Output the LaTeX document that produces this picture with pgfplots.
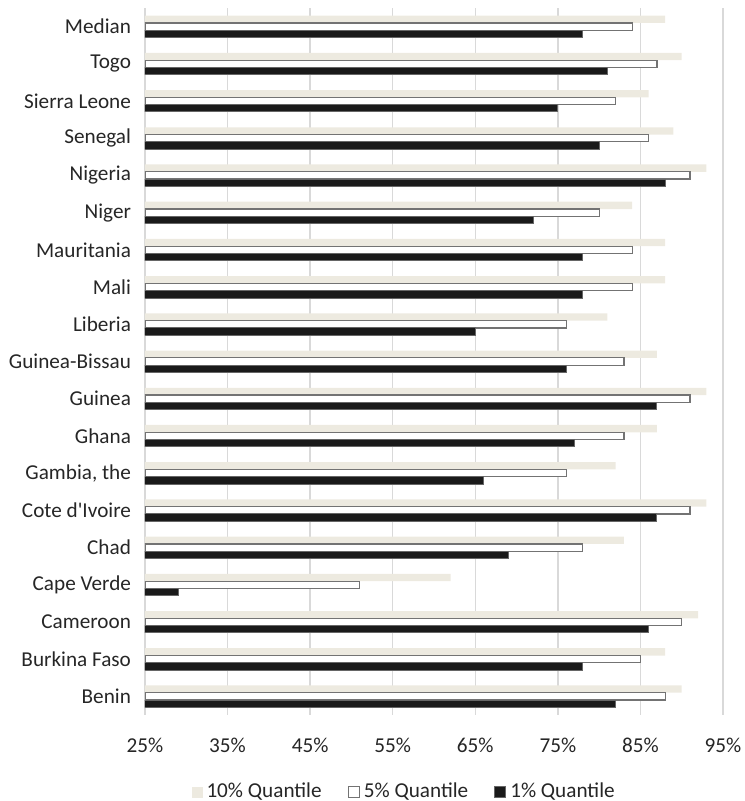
\documentclass[border=0pt]{standalone}
\usepackage{fontspec}
\setmainfont{Carlito}
\usepackage{pgfplots}
\usepackage{pgfplotstable}
\pgfplotsset{compat=1.18}
\definecolor{beige}{HTML}{EDEAE0}
\definecolor{darkbar}{HTML}{1A1A1A}
\definecolor{gridgray}{HTML}{D9D9D9}
\pgfplotsset{sqlegend/.style={legend image code/.code={\path[##1] (0pt,-2.75pt) rectangle (5.5pt,2.75pt);}}}
% idx: 0=Benin ... 18=Median
\pgfplotstableread{
idx q10 q5 q1
0  90 88 82
1  88 85 78
2  92 90 86
3  62 51 29
4  83 78 69
5  93 91 87
6  82 76 66
7  87 83 77
8  93 91 87
9  87 83 76
10 81 76 65
11 88 84 78
12 88 84 78
13 84 80 72
14 93 91 88
15 89 86 80
16 86 82 75
17 90 87 81
18 88 84 78
}\datatable
\begin{document}
\begin{tikzpicture}
\begin{axis}[
  at={(0,0)}, anchor=south west,
  scale only axis,
  width=289pt, height=353.5pt,
  xbar, bar width=0.196,
  xmin=25, xmax=95, ymin=-0.5, ymax=18.5,
  xtick={25,35,...,95},
  xticklabel={\pgfmathprintnumber{\tick}\%},
  ytick={0,...,18},
  yticklabels={Benin, Burkina Faso, Cameroon, Cape Verde, Chad, Cote d\textquotesingle Ivoire, {Gambia, the}, Ghana, Guinea, Guinea-Bissau, Liberia, Mali, Mauritania, Niger, Nigeria, Senegal, Sierra Leone, Togo, Median},
  /pgf/number format/assume math mode=true,
  tick label style={font=\fontsize{10.6}{12}\selectfont, text=black!85},
  xticklabel style={anchor=base, yshift=-18.5pt},
  yticklabel style={anchor=east, xshift=-3.5pt},
  major tick length=0pt,
  axis line style={draw=none},
  xmajorgrids,
  grid style={draw=gridgray, line width=0.75pt},
  legend columns=-1,
  legend style={draw=none, at={(0.45,-0.109)}, anchor=center,
    font=\fontsize{10.6}{12}\selectfont, text=black!85,
    /tikz/every even column/.append style={column sep=11pt}},
]
\addplot[fill=beige, draw=none, bar shift=0.196, sqlegend] table[x=q10, y=idx] {\datatable};
\addplot[fill=white, draw=black!55, line width=0.6pt, bar shift=0, sqlegend] table[x=q5, y=idx] {\datatable};
\addplot[fill=darkbar, draw=black!60, line width=0.5pt, bar shift=-0.196, sqlegend] table[x=q1, y=idx] {\datatable};
\legend{10\% Quantile, 5\% Quantile, 1\% Quantile}
\end{axis}
\pgfresetboundingbox
\path (-72.5pt,-43pt) rectangle (299.5pt,357.5pt);
\end{tikzpicture}
\end{document}
